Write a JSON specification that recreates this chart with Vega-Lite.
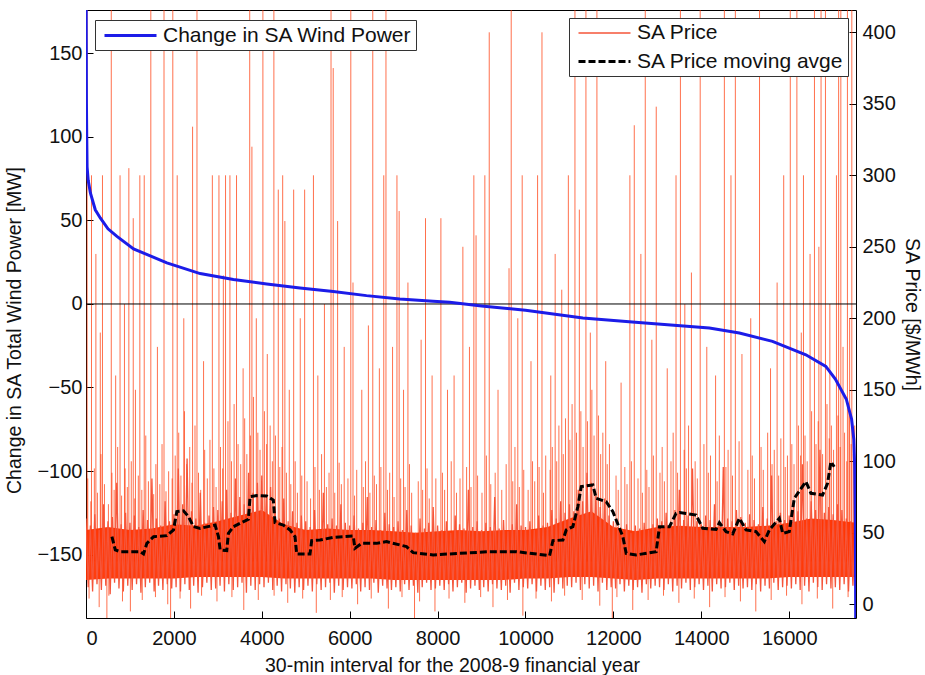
{
  "$schema": "https://vega.github.io/schema/vega-lite/v6.json",
  "width": 770,
  "height": 608,
  "autosize": {"type": "none"},
  "padding": {"left": 86, "top": 10, "right": 69, "bottom": 57},
  "background": "white",
  "config": {
    "font": "Liberation Sans",
    "view": {"stroke": "#000", "strokeWidth": 1},
    "axis": {
      "grid": false, "domain": false,
      "labelFontSize": 20, "labelColor": "#111",
      "titleFontSize": 19.5, "titleFontWeight": "normal", "titleColor": "#111",
      "tickColor": "#000", "tickSize": -7
    },
    "axisX": {"labelPadding": 17, "titlePadding": 8, "titleX": 366},
    "axisLeft": {"labelPadding": 11, "titlePadding": 12, "titleY": 320},
    "axisRight": {"labelPadding": 13, "titlePadding": 6},
    "legend": {
      "labelFontSize": 21, "labelColor": "#111", "labelFont": "Liberation Sans", "labelLimit": 500,
      "strokeColor": "#333", "fillColor": "#fff", "padding": 4,
      "symbolType": "M-2.6,0H2.6", "symbolSize": 400, "symbolOffset": 20, "labelOffset": 21, "rowPadding": 7
    }
  },
  "datasets": {
    "price": [
      {"t":0,"p":60},{"t":50,"p":12},{"t":100,"p":55},{"t":150,"p":9},{"t":200,"p":63},{"t":250,"p":14},{"t":300,"p":52},{"t":350,"p":10},{"t":400,"p":70},{"t":450,"p":13},
      {"t":500,"p":58},{"t":550,"p":7},{"t":600,"p":61},{"t":650,"p":15},{"t":700,"p":85},{"t":750,"p":11},{"t":800,"p":56},{"t":850,"p":9},{"t":900,"p":64},{"t":950,"p":13},
      {"t":1000,"p":57},{"t":1050,"p":10},{"t":1100,"p":62},{"t":1150,"p":14},{"t":1200,"p":54},{"t":1250,"p":8},{"t":1300,"p":66},{"t":1350,"p":12},{"t":1400,"p":59},{"t":1450,"p":15},
      {"t":1500,"p":88},{"t":1550,"p":9},{"t":1600,"p":60},{"t":1650,"p":13},{"t":1700,"p":55},{"t":1750,"p":10},{"t":1800,"p":72},{"t":1850,"p":14},{"t":1900,"p":58},{"t":1950,"p":11},
      {"t":2000,"p":63},{"t":2050,"p":12},{"t":2100,"p":95},{"t":2150,"p":9},{"t":2200,"p":70},{"t":2250,"p":14},{"t":2300,"p":102},{"t":2350,"p":10},{"t":2400,"p":65},{"t":2450,"p":13},
      {"t":2500,"p":60},{"t":2550,"p":8},{"t":2600,"p":78},{"t":2650,"p":12},{"t":2700,"p":57},{"t":2750,"p":15},{"t":2800,"p":62},{"t":2850,"p":10},{"t":2900,"p":68},{"t":2950,"p":11},
      {"t":3000,"p":66},{"t":3050,"p":13},{"t":3100,"p":72},{"t":3150,"p":9},{"t":3200,"p":80},{"t":3250,"p":14},{"t":3300,"p":64},{"t":3350,"p":10},{"t":3400,"p":88},{"t":3450,"p":12},
      {"t":3500,"p":75},{"t":3550,"p":15},{"t":3600,"p":70},{"t":3650,"p":8},{"t":3700,"p":92},{"t":3750,"p":13},{"t":3800,"p":78},{"t":3850,"p":10},{"t":3900,"p":85},{"t":3950,"p":14},
      {"t":4000,"p":90},{"t":4050,"p":12},{"t":4100,"p":76},{"t":4150,"p":15},{"t":4200,"p":82},{"t":4250,"p":10},{"t":4300,"p":68},{"t":4350,"p":13},{"t":4400,"p":60},{"t":4450,"p":9},
      {"t":4500,"p":74},{"t":4550,"p":14},{"t":4600,"p":58},{"t":4650,"p":11},{"t":4700,"p":65},{"t":4750,"p":8},{"t":4800,"p":57},{"t":4850,"p":12},{"t":4900,"p":62},{"t":4950,"p":10},
      {"t":5000,"p":58},{"t":5050,"p":13},{"t":5100,"p":54},{"t":5150,"p":9},{"t":5200,"p":66},{"t":5250,"p":14},{"t":5300,"p":52},{"t":5350,"p":10},{"t":5400,"p":78},{"t":5450,"p":12},
      {"t":5500,"p":56},{"t":5550,"p":15},{"t":5600,"p":60},{"t":5650,"p":8},{"t":5700,"p":55},{"t":5750,"p":13},{"t":5800,"p":70},{"t":5850,"p":10},{"t":5900,"p":57},{"t":5950,"p":12},
      {"t":6000,"p":55},{"t":6050,"p":11},{"t":6100,"p":62},{"t":6150,"p":14},{"t":6200,"p":53},{"t":6250,"p":9},{"t":6300,"p":57},{"t":6350,"p":12},{"t":6400,"p":75},{"t":6450,"p":10},
      {"t":6500,"p":54},{"t":6550,"p":15},{"t":6600,"p":59},{"t":6650,"p":8},{"t":6700,"p":52},{"t":6750,"p":13},{"t":6800,"p":64},{"t":6850,"p":11},{"t":6900,"p":56},{"t":6950,"p":10},
      {"t":7000,"p":54},{"t":7050,"p":12},{"t":7100,"p":58},{"t":7150,"p":9},{"t":7200,"p":52},{"t":7250,"p":14},{"t":7300,"p":66},{"t":7350,"p":10},{"t":7400,"p":55},{"t":7450,"p":13},
      {"t":7500,"p":50},{"t":7550,"p":8},{"t":7600,"p":60},{"t":7650,"p":12},{"t":7700,"p":53},{"t":7750,"p":15},{"t":7800,"p":57},{"t":7850,"p":10},{"t":7900,"p":68},{"t":7950,"p":11},
      {"t":8000,"p":55},{"t":8050,"p":13},{"t":8100,"p":52},{"t":8150,"p":10},{"t":8200,"p":58},{"t":8250,"p":14},{"t":8300,"p":50},{"t":8350,"p":9},{"t":8400,"p":62},{"t":8450,"p":12},
      {"t":8500,"p":56},{"t":8550,"p":15},{"t":8600,"p":53},{"t":8650,"p":8},{"t":8700,"p":80},{"t":8750,"p":11},{"t":8800,"p":54},{"t":8850,"p":13},{"t":8900,"p":58},{"t":8950,"p":10},
      {"t":9000,"p":52},{"t":9050,"p":12},{"t":9100,"p":57},{"t":9150,"p":9},{"t":9200,"p":54},{"t":9250,"p":14},{"t":9300,"p":75},{"t":9350,"p":11},{"t":9400,"p":53},{"t":9450,"p":10},
      {"t":9500,"p":59},{"t":9550,"p":13},{"t":9600,"p":51},{"t":9650,"p":8},{"t":9700,"p":56},{"t":9750,"p":15},{"t":9800,"p":70},{"t":9850,"p":10},{"t":9900,"p":55},{"t":9950,"p":12},
      {"t":10000,"p":54},{"t":10050,"p":11},{"t":10100,"p":58},{"t":10150,"p":14},{"t":10200,"p":52},{"t":10250,"p":9},{"t":10300,"p":62},{"t":10350,"p":13},{"t":10400,"p":55},{"t":10450,"p":10},
      {"t":10500,"p":57},{"t":10550,"p":12},{"t":10600,"p":66},{"t":10650,"p":8},{"t":10700,"p":60},{"t":10750,"p":14},{"t":10800,"p":72},{"t":10850,"p":11},{"t":10900,"p":64},{"t":10950,"p":13},
      {"t":11000,"p":70},{"t":11050,"p":12},{"t":11100,"p":65},{"t":11150,"p":15},{"t":11200,"p":80},{"t":11250,"p":10},{"t":11300,"p":72},{"t":11350,"p":14},{"t":11400,"p":92},{"t":11450,"p":11},
      {"t":11500,"p":85},{"t":11550,"p":13},{"t":11600,"p":76},{"t":11650,"p":9},{"t":11700,"p":68},{"t":11750,"p":15},{"t":11800,"p":74},{"t":11850,"p":10},{"t":11900,"p":62},{"t":11950,"p":12},
      {"t":12000,"p":58},{"t":12050,"p":11},{"t":12100,"p":54},{"t":12150,"p":14},{"t":12200,"p":52},{"t":12250,"p":9},{"t":12300,"p":56},{"t":12350,"p":13},{"t":12400,"p":50},{"t":12450,"p":10},
      {"t":12500,"p":55},{"t":12550,"p":12},{"t":12600,"p":53},{"t":12650,"p":8},{"t":12700,"p":57},{"t":12750,"p":14},{"t":12800,"p":52},{"t":12850,"p":11},{"t":12900,"p":56},{"t":12950,"p":13},
      {"t":13000,"p":60},{"t":13050,"p":12},{"t":13100,"p":58},{"t":13150,"p":10},{"t":13200,"p":64},{"t":13250,"p":14},{"t":13300,"p":57},{"t":13350,"p":9},{"t":13400,"p":66},{"t":13450,"p":13},
      {"t":13500,"p":80},{"t":13550,"p":11},{"t":13600,"p":59},{"t":13650,"p":15},{"t":13700,"p":62},{"t":13750,"p":10},{"t":13800,"p":95},{"t":13850,"p":12},{"t":13900,"p":58},{"t":13950,"p":14},
      {"t":14000,"p":56},{"t":14050,"p":10},{"t":14100,"p":62},{"t":14150,"p":13},{"t":14200,"p":59},{"t":14250,"p":9},{"t":14300,"p":70},{"t":14350,"p":14},{"t":14400,"p":57},{"t":14450,"p":11},
      {"t":14500,"p":96},{"t":14550,"p":12},{"t":14600,"p":60},{"t":14650,"p":15},{"t":14700,"p":58},{"t":14750,"p":10},{"t":14800,"p":66},{"t":14850,"p":13},{"t":14900,"p":61},{"t":14950,"p":11},
      {"t":15000,"p":57},{"t":15050,"p":12},{"t":15100,"p":63},{"t":15150,"p":10},{"t":15200,"p":59},{"t":15250,"p":14},{"t":15300,"p":56},{"t":15350,"p":9},{"t":15400,"p":68},{"t":15450,"p":13},
      {"t":15500,"p":60},{"t":15550,"p":11},{"t":15600,"p":90},{"t":15650,"p":15},{"t":15700,"p":58},{"t":15750,"p":10},{"t":15800,"p":64},{"t":15850,"p":12},{"t":15900,"p":59},{"t":15950,"p":13},
      {"t":16000,"p":62},{"t":16050,"p":11},{"t":16100,"p":70},{"t":16150,"p":14},{"t":16200,"p":65},{"t":16250,"p":10},{"t":16300,"p":98},{"t":16350,"p":13},{"t":16400,"p":60},{"t":16450,"p":9},
      {"t":16500,"p":72},{"t":16550,"p":15},{"t":16600,"p":66},{"t":16650,"p":12},{"t":16700,"p":108},{"t":16750,"p":10},{"t":16800,"p":64},{"t":16850,"p":14},{"t":16900,"p":68},{"t":16950,"p":11},
      {"t":17000,"p":63},{"t":17050,"p":12},{"t":17100,"p":70},{"t":17150,"p":10},{"t":17200,"p":66},{"t":17250,"p":14},{"t":17300,"p":60},{"t":17350,"p":9},{"t":17400,"p":58},{"t":17450,"p":13},
      {"t":17500,"p":55}
    ],
    "band": [
      {"t":0,"lo":17,"hi":52},{"t":500,"lo":18,"hi":54},{"t":1000,"lo":18,"hi":52},{"t":1500,"lo":18,"hi":53},{"t":2000,"lo":18,"hi":56},{"t":2500,"lo":19,"hi":55},
      {"t":3000,"lo":19,"hi":58},{"t":3500,"lo":19,"hi":62},{"t":4000,"lo":19,"hi":66},{"t":4500,"lo":18,"hi":56},{"t":5000,"lo":18,"hi":52},{"t":5500,"lo":18,"hi":53},
      {"t":6000,"lo":18,"hi":52},{"t":6500,"lo":18,"hi":52},{"t":7000,"lo":17,"hi":51},{"t":7500,"lo":17,"hi":50},{"t":8000,"lo":17,"hi":51},{"t":8500,"lo":17,"hi":52},
      {"t":9000,"lo":17,"hi":51},{"t":9500,"lo":17,"hi":52},{"t":10000,"lo":18,"hi":52},{"t":10500,"lo":18,"hi":54},{"t":11000,"lo":19,"hi":60},{"t":11500,"lo":19,"hi":65},
      {"t":12000,"lo":18,"hi":54},{"t":12500,"lo":17,"hi":51},{"t":13000,"lo":18,"hi":54},{"t":13500,"lo":18,"hi":55},{"t":14000,"lo":18,"hi":54},{"t":14500,"lo":18,"hi":54},
      {"t":15000,"lo":18,"hi":54},{"t":15500,"lo":18,"hi":55},{"t":16000,"lo":19,"hi":57},{"t":16500,"lo":19,"hi":60},{"t":17000,"lo":19,"hi":59},{"t":17520,"lo":19,"hi":57}
    ],
    "spikes": [
      {"t":25,"p":600},{"t":125,"p":300},{"t":225,"p":245},{"t":325,"p":190},{"t":375,"p":300},{"t":475,"p":-40},{"t":575,"p":600},{"t":675,"p":160},{"t":775,"p":300},{"t":875,"p":210},
      {"t":975,"p":305},{"t":1075,"p":270},{"t":1125,"p":150},{"t":1225,"p":300},{"t":1325,"p":300},{"t":1475,"p":600},{"t":1625,"p":180},{"t":1775,"p":600},{"t":1925,"p":-40},{"t":1975,"p":600},
      {"t":2075,"p":300},{"t":2225,"p":200},{"t":2425,"p":334},{"t":2525,"p":600},{"t":2675,"p":170},{"t":2875,"p":300},{"t":3025,"p":300},{"t":3125,"p":230},{"t":3175,"p":300},{"t":3275,"p":300},
      {"t":3425,"p":300},{"t":3575,"p":165},{"t":3725,"p":600},{"t":3775,"p":320},{"t":3875,"p":200},{"t":4025,"p":600},{"t":4125,"p":175},{"t":4275,"p":600},{"t":4375,"p":290},{"t":4475,"p":300},
      {"t":4525,"p":268},{"t":4625,"p":150},{"t":4725,"p":290},{"t":4875,"p":200},{"t":4975,"p":290},{"t":5175,"p":300},{"t":5275,"p":160},{"t":5425,"p":210},{"t":5575,"p":600},{"t":5625,"p":375},
      {"t":5725,"p":268},{"t":5875,"p":180},{"t":6025,"p":600},{"t":6075,"p":225},{"t":6275,"p":150},{"t":6425,"p":195},{"t":6525,"p":600},{"t":6675,"p":165},{"t":6775,"p":300},{"t":6825,"p":600},
      {"t":6975,"p":180},{"t":7075,"p":300},{"t":7125,"p":275},{"t":7225,"p":150},{"t":7325,"p":225},{"t":7475,"p":-40},{"t":7625,"p":185},{"t":7725,"p":270},{"t":7875,"p":160},{"t":8075,"p":270},
      {"t":8225,"p":150},{"t":8375,"p":160},{"t":8575,"p":250},{"t":8725,"p":180},{"t":8825,"p":300},{"t":8875,"p":258},{"t":9075,"p":300},{"t":9175,"p":400},{"t":9375,"p":150},{"t":9625,"p":235},
      {"t":9675,"p":600},{"t":9825,"p":200},{"t":9925,"p":300},{"t":10125,"p":170},{"t":10275,"p":300},{"t":10375,"p":400},{"t":10575,"p":160},{"t":10675,"p":245},{"t":10825,"p":220},{"t":10975,"p":300},
      {"t":11125,"p":600},{"t":11225,"p":276},{"t":11375,"p":600},{"t":11475,"p":190},{"t":11625,"p":600},{"t":11825,"p":170},{"t":11975,"p":-40},{"t":12175,"p":155},{"t":12375,"p":300},{"t":12475,"p":335},
      {"t":12625,"p":245},{"t":12725,"p":600},{"t":12875,"p":185},{"t":12975,"p":348},{"t":13225,"p":165},{"t":13425,"p":300},{"t":13525,"p":600},{"t":13625,"p":210},{"t":13775,"p":232},{"t":13975,"p":600},
      {"t":14125,"p":180},{"t":14325,"p":160},{"t":14525,"p":600},{"t":14675,"p":300},{"t":14775,"p":600},{"t":14925,"p":175},{"t":15125,"p":200},{"t":15325,"p":600},{"t":15575,"p":165},{"t":15725,"p":225},
      {"t":15875,"p":300},{"t":16025,"p":600},{"t":16175,"p":600},{"t":16275,"p":190},{"t":16325,"p":300},{"t":16475,"p":245},{"t":16575,"p":600},{"t":16675,"p":250},{"t":16725,"p":600},{"t":16825,"p":600},
      {"t":16925,"p":210},{"t":17075,"p":300},{"t":17125,"p":600},{"t":17175,"p":600},{"t":17225,"p":180},{"t":17325,"p":600},{"t":17375,"p":200},{"t":17425,"p":600}
    ],
    "fringe": [
      {"t":40,"p":88},{"t":110,"p":72},{"t":190,"p":95},{"t":260,"p":78},{"t":340,"p":105},{"t":420,"p":84},{"t":510,"p":70},{"t":590,"p":92},{"t":640,"p":80},{"t":720,"p":110},
      {"t":810,"p":76},{"t":890,"p":95},{"t":940,"p":82},{"t":1030,"p":100},{"t":1110,"p":74},{"t":1190,"p":90},{"t":1270,"p":80},{"t":1360,"p":118},{"t":1420,"p":86},{"t":1540,"p":77},
      {"t":1590,"p":98},{"t":1680,"p":84},{"t":1730,"p":112},{"t":1820,"p":79},{"t":1880,"p":93},{"t":1960,"p":88},
      {"t":2030,"p":104},{"t":2110,"p":120},{"t":2160,"p":90},{"t":2240,"p":135},{"t":2290,"p":98},{"t":2360,"p":110},{"t":2410,"p":85},{"t":2480,"p":125},{"t":2560,"p":92},{"t":2610,"p":80},
      {"t":2700,"p":108},{"t":2760,"p":88},{"t":2820,"p":115},{"t":2910,"p":95},{"t":2960,"p":82},
      {"t":3060,"p":110},{"t":3110,"p":95},{"t":3230,"p":128},{"t":3310,"p":100},{"t":3370,"p":140},{"t":3460,"p":112},{"t":3520,"p":98},{"t":3610,"p":130},{"t":3660,"p":105},{"t":3740,"p":118},
      {"t":3810,"p":145},{"t":3910,"p":120},{"t":3960,"p":108},{"t":4060,"p":135},{"t":4110,"p":112},{"t":4190,"p":125},{"t":4240,"p":100},{"t":4310,"p":118},{"t":4410,"p":96},{"t":4460,"p":110},
      {"t":4560,"p":92},{"t":4660,"p":84},{"t":4760,"p":100},{"t":4810,"p":78},{"t":4910,"p":90},{"t":5030,"p":86},{"t":5110,"p":74},{"t":5210,"p":96},{"t":5310,"p":80},{"t":5360,"p":105},
      {"t":5470,"p":82},{"t":5530,"p":92},{"t":5660,"p":78},{"t":5760,"p":99},{"t":5810,"p":84},{"t":5960,"p":88},{"t":6110,"p":76},{"t":6160,"p":94},{"t":6310,"p":82},{"t":6360,"p":100},
      {"t":6460,"p":78},{"t":6560,"p":90},{"t":6610,"p":84},{"t":6710,"p":96},{"t":6860,"p":80},{"t":6910,"p":92},{"t":7010,"p":75},{"t":7160,"p":88},{"t":7260,"p":82},{"t":7360,"p":98},
      {"t":7410,"p":78},{"t":7560,"p":86},{"t":7660,"p":80},{"t":7760,"p":95},{"t":7810,"p":74},{"t":7960,"p":88},
      {"t":8110,"p":92},{"t":8160,"p":80},{"t":8310,"p":100},{"t":8430,"p":78},{"t":8510,"p":88},{"t":8660,"p":96},{"t":8760,"p":82},{"t":8910,"p":90},{"t":9010,"p":78},{"t":9110,"p":104},
      {"t":9210,"p":84},{"t":9310,"p":92},{"t":9460,"p":80},{"t":9560,"p":98},{"t":9710,"p":86},{"t":9760,"p":110},{"t":9860,"p":82},{"t":9960,"p":94},{"t":10060,"p":80},{"t":10160,"p":100},
      {"t":10210,"p":86},{"t":10310,"p":96},{"t":10410,"p":78},{"t":10460,"p":104},
      {"t":10560,"p":94},{"t":10610,"p":110},{"t":10710,"p":100},{"t":10760,"p":125},{"t":10860,"p":105},{"t":10910,"p":130},{"t":11010,"p":115},{"t":11060,"p":140},{"t":11160,"p":120},{"t":11260,"p":135},
      {"t":11310,"p":110},{"t":11410,"p":128},{"t":11510,"p":150},{"t":11560,"p":118},{"t":11660,"p":132},{"t":11710,"p":105},{"t":11760,"p":120},{"t":11860,"p":98},{"t":11910,"p":112},
      {"t":12060,"p":90},{"t":12110,"p":80},{"t":12260,"p":96},{"t":12310,"p":84},{"t":12410,"p":100},{"t":12560,"p":88},{"t":12660,"p":78},{"t":12760,"p":94},{"t":12810,"p":82},{"t":12910,"p":104},
      {"t":13060,"p":92},{"t":13110,"p":110},{"t":13160,"p":86},{"t":13310,"p":100},{"t":13360,"p":120},{"t":13460,"p":92},{"t":13610,"p":108},{"t":13660,"p":95},{"t":13710,"p":125},{"t":13860,"p":100},
      {"t":13910,"p":88},{"t":14060,"p":112},{"t":14160,"p":92},{"t":14210,"p":104},{"t":14360,"p":86},{"t":14410,"p":118},{"t":14560,"p":96},{"t":14610,"p":108},{"t":14710,"p":90},{"t":14860,"p":114},
      {"t":15060,"p":94},{"t":15160,"p":104},{"t":15210,"p":88},{"t":15360,"p":110},{"t":15410,"p":94},{"t":15510,"p":120},{"t":15610,"p":98},{"t":15660,"p":108},{"t":15760,"p":90},{"t":15810,"p":116},
      {"t":15910,"p":96},{"t":15960,"p":104},
      {"t":16060,"p":112},{"t":16110,"p":98},{"t":16210,"p":125},{"t":16260,"p":104},{"t":16360,"p":118},{"t":16410,"p":100},{"t":16510,"p":135},{"t":16610,"p":112},{"t":16660,"p":128},{"t":16760,"p":105},
      {"t":16860,"p":140},{"t":16910,"p":116},{"t":16960,"p":125},{"t":17010,"p":108},{"t":17110,"p":132},{"t":17160,"p":110},{"t":17260,"p":120},{"t":17310,"p":100},{"t":17360,"p":138},{"t":17410,"p":112},
      {"t":17460,"p":105},{"t":17490,"p":125},
      {"t":70,"p":4},{"t":300,"p":-2},{"t":520,"p":6},{"t":830,"p":2},{"t":1010,"p":-5},{"t":1280,"p":3},{"t":1580,"p":5},{"t":1860,"p":0},{"t":2140,"p":4},{"t":2380,"p":-3},
      {"t":2630,"p":6},{"t":2980,"p":2},{"t":3320,"p":5},{"t":3590,"p":-4},{"t":3920,"p":3},{"t":4280,"p":6},{"t":4590,"p":1},{"t":4930,"p":4},{"t":5240,"p":-6},{"t":5560,"p":3},
      {"t":5830,"p":5},{"t":6180,"p":0},{"t":6490,"p":4},{"t":6880,"p":-3},{"t":7190,"p":5},{"t":7590,"p":2},{"t":7940,"p":-5},{"t":8260,"p":4},{"t":8620,"p":1},{"t":8980,"p":5},
      {"t":9260,"p":-2},{"t":9590,"p":3},{"t":9940,"p":-8},{"t":10240,"p":4},{"t":10590,"p":2},{"t":10890,"p":6},{"t":11290,"p":3},{"t":11690,"p":-1},{"t":12080,"p":5},{"t":12440,"p":-4},
      {"t":12790,"p":3},{"t":13140,"p":6},{"t":13490,"p":1},{"t":13840,"p":4},{"t":14190,"p":-2},{"t":14540,"p":5},{"t":14890,"p":2},{"t":15240,"p":-5},{"t":15590,"p":3},{"t":15940,"p":6},
      {"t":16290,"p":0},{"t":16640,"p":4},{"t":16990,"p":-3},{"t":17340,"p":5}
    ],
    "avg": [
      {"t":590,"p":47.3},{"t":666,"p":38},{"t":779,"p":36.8},{"t":1233,"p":36.8},{"t":1309,"p":35.2},{"t":1385,"p":42.6},{"t":1537,"p":47.3},{"t":1840,"p":48},
      {"t":1991,"p":52},{"t":2067,"p":64.8},{"t":2218,"p":65.4},{"t":2332,"p":61.3},{"t":2446,"p":54.3},{"t":2597,"p":53.1},{"t":2938,"p":55.4},{"t":3014,"p":47.3},
      {"t":3052,"p":38},{"t":3203,"p":37.6},{"t":3240,"p":49.6},{"t":3354,"p":54.3},{"t":3506,"p":56.6},{"t":3695,"p":59.4},{"t":3733,"p":75.3},{"t":3884,"p":76},
      {"t":4112,"p":75.7},{"t":4263,"p":72.9},{"t":4301,"p":57.1},{"t":4490,"p":55.4},{"t":4642,"p":52},{"t":4756,"p":47.3},{"t":4794,"p":35.2},{"t":5097,"p":35.2},
      {"t":5135,"p":44.5},{"t":5324,"p":44.9},{"t":5627,"p":46.8},{"t":6081,"p":47.7},{"t":6119,"p":39.1},{"t":6271,"p":42.6},{"t":6612,"p":42.6},{"t":6839,"p":43.8},
      {"t":7293,"p":40.3},{"t":7445,"p":36.1},{"t":7899,"p":34.5},{"t":8277,"p":35.2},{"t":9185,"p":36.8},{"t":9791,"p":36.8},{"t":10548,"p":34},{"t":10624,"p":44.5},
      {"t":10851,"p":44.9},{"t":10927,"p":52},{"t":11078,"p":54.3},{"t":11192,"p":68.3},{"t":11268,"p":82.3},{"t":11533,"p":83.4},{"t":11609,"p":74.1},{"t":11836,"p":71.7},
      {"t":11988,"p":64.8},{"t":12215,"p":47.3},{"t":12291,"p":35.6},{"t":12518,"p":34.5},{"t":12973,"p":36.8},{"t":13048,"p":54.3},{"t":13275,"p":54.3},{"t":13427,"p":63.6},
      {"t":13503,"p":64.1},{"t":13881,"p":62.4},{"t":14033,"p":53.1},{"t":14336,"p":52.4},{"t":14412,"p":57.1},{"t":14563,"p":50.8},{"t":14715,"p":49.2},{"t":14866,"p":60.2},
      {"t":15017,"p":52},{"t":15245,"p":50.8},{"t":15434,"p":43.8},{"t":15548,"p":52},{"t":15775,"p":60.2},{"t":15851,"p":49.6},{"t":16002,"p":50.8},{"t":16116,"p":74.1},
      {"t":16381,"p":85.8},{"t":16494,"p":77.6},{"t":16759,"p":76.4},{"t":16873,"p":84.6},{"t":16949,"p":99.7},{"t":17025,"p":96.2}
    ],
    "wind": [
      {"t":0,"w":300},{"t":4,"w":176},{"t":10,"w":120},{"t":17,"w":100},{"t":25,"w":82},{"t":50,"w":74},{"t":100,"w":66.5},{"t":211,"w":56.4},
      {"t":325,"w":51.5},{"t":500,"w":45},{"t":704,"w":40.5},{"t":1082,"w":33},{"t":1840,"w":24.6},{"t":2597,"w":18.2},{"t":3354,"w":14.6},{"t":4112,"w":12},
      {"t":4869,"w":9.6},{"t":5625,"w":7.5},{"t":6383,"w":5},{"t":7140,"w":3},{"t":7896,"w":1.6},{"t":8276,"w":1},{"t":9000,"w":-1.2},{"t":10000,"w":-3.8},
      {"t":11305,"w":-8.4},{"t":12500,"w":-11},{"t":14183,"w":-14.4},{"t":14866,"w":-17.4},{"t":15620,"w":-22.4},{"t":16379,"w":-30.4},{"t":16833,"w":-37.4},{"t":17050,"w":-45},
      {"t":17300,"w":-57},{"t":17420,"w":-69},{"t":17470,"w":-81},{"t":17490,"w":-97},{"t":17505,"w":-130},{"t":17515,"w":-200}
    ]
  },
  "layer": [
    {
      "layer": [
        {
          "data": {"name": "band"},
          "mark": {"type": "area", "clip": true, "color": "#ff3300", "opacity": 0.95},
          "encoding": {
            "x": {"field": "t", "type": "quantitative", "scale": {"domain": [0, 17520], "nice": false}, "axis": {"values": [0,2000,4000,6000,8000,10000,12000,14000,16000], "format": "d"}, "title": "30-min interval for the 2008-9 financial year"},
            "y": {"field": "lo", "type": "quantitative", "scale": {"domain": [-9.6, 415.6], "nice": false, "zero": false}, "axis": {"orient": "right", "values": [0,50,100,150,200,250,300,350,400]}, "title": "SA Price [$/MWh]"},
            "y2": {"field": "hi"}
          }
        },
        {
          "data": {"name": "fringe"},
          "mark": {"type": "rule", "clip": true, "color": "#ff3300", "opacity": 0.7, "strokeWidth": 1},
          "encoding": {
            "x": {"field": "t", "type": "quantitative", "title": "30-min interval for the 2008-9 financial year"},
            "y": {"field": "p", "type": "quantitative", "title": "SA Price [$/MWh]"},
            "y2": {"datum": 30}
          }
        },
        {
          "data": {"name": "spikes"},
          "mark": {"type": "rule", "clip": true, "color": "#ff3300", "opacity": 0.7, "strokeWidth": 1},
          "encoding": {
            "x": {"field": "t", "type": "quantitative", "title": "30-min interval for the 2008-9 financial year"},
            "y": {"field": "p", "type": "quantitative", "title": "SA Price [$/MWh]"},
            "y2": {"datum": 30}
          }
        },
        {
          "data": {"name": "price"},
          "mark": {"type": "line", "clip": true},
          "encoding": {
            "x": {"field": "t", "type": "quantitative", "title": "30-min interval for the 2008-9 financial year"},
            "y": {"field": "p", "type": "quantitative", "title": "SA Price [$/MWh]"},
            "color": {"datum": "SA Price", "type": "nominal", "scale": {"domain": ["SA Price", "SA Price moving avge"], "range": ["#f5553a", "#000000"]}, "legend": {"title": null, "orient": "top-right", "offset": 8}},
            "strokeDash": {"datum": "SA Price", "type": "nominal", "scale": {"domain": ["SA Price", "SA Price moving avge"], "range": [[1, 0], [7, 3]]}, "legend": {"title": null, "orient": "top-right", "offset": 8}},
            "strokeWidth": {"datum": "SA Price", "type": "ordinal", "scale": {"domain": ["SA Price", "SA Price moving avge"], "range": [1.3, 3]}, "legend": {"title": null, "orient": "top-right", "offset": 8}}
          }
        },
        {
          "data": {"name": "avg"},
          "mark": {"type": "line", "clip": true},
          "encoding": {
            "x": {"field": "t", "type": "quantitative", "title": "30-min interval for the 2008-9 financial year"},
            "y": {"field": "p", "type": "quantitative", "title": "SA Price [$/MWh]"},
            "color": {"datum": "SA Price moving avge", "type": "nominal"},
            "strokeDash": {"datum": "SA Price moving avge", "type": "nominal"},
            "strokeWidth": {"datum": "SA Price moving avge", "type": "ordinal"}
          }
        }
      ]
    },
    {
      "layer": [
        {
          "data": {"values": [{}]},
          "mark": {"type": "rule", "color": "#000", "strokeWidth": 1},
          "encoding": {"y": {"datum": 0, "type": "quantitative"}}
        },
        {
          "data": {"name": "wind"},
          "mark": {"type": "line", "clip": true, "strokeWidth": 3},
          "encoding": {
            "x": {"field": "t", "type": "quantitative", "title": "30-min interval for the 2008-9 financial year"},
            "y": {"field": "w", "type": "quantitative", "scale": {"domain": [-188, 176], "nice": false, "zero": false}, "axis": {"orient": "left", "values": [-150,-100,-50,0,50,100,150]}, "title": "Change in SA Total Wind Power [MW]"},
            "color": {"datum": "Change in SA Wind Power", "type": "nominal", "scale": {"domain": ["Change in SA Wind Power"], "range": ["#1c1ce8"]}, "legend": {"title": null, "orient": "none", "legendX": 9, "legendY": 10, "symbolStrokeWidth": 3}}
          }
        }
      ]
    }
  ],
  "resolve": {"scale": {"y": "independent", "color": "independent", "strokeDash": "independent", "strokeWidth": "independent"}}
}
